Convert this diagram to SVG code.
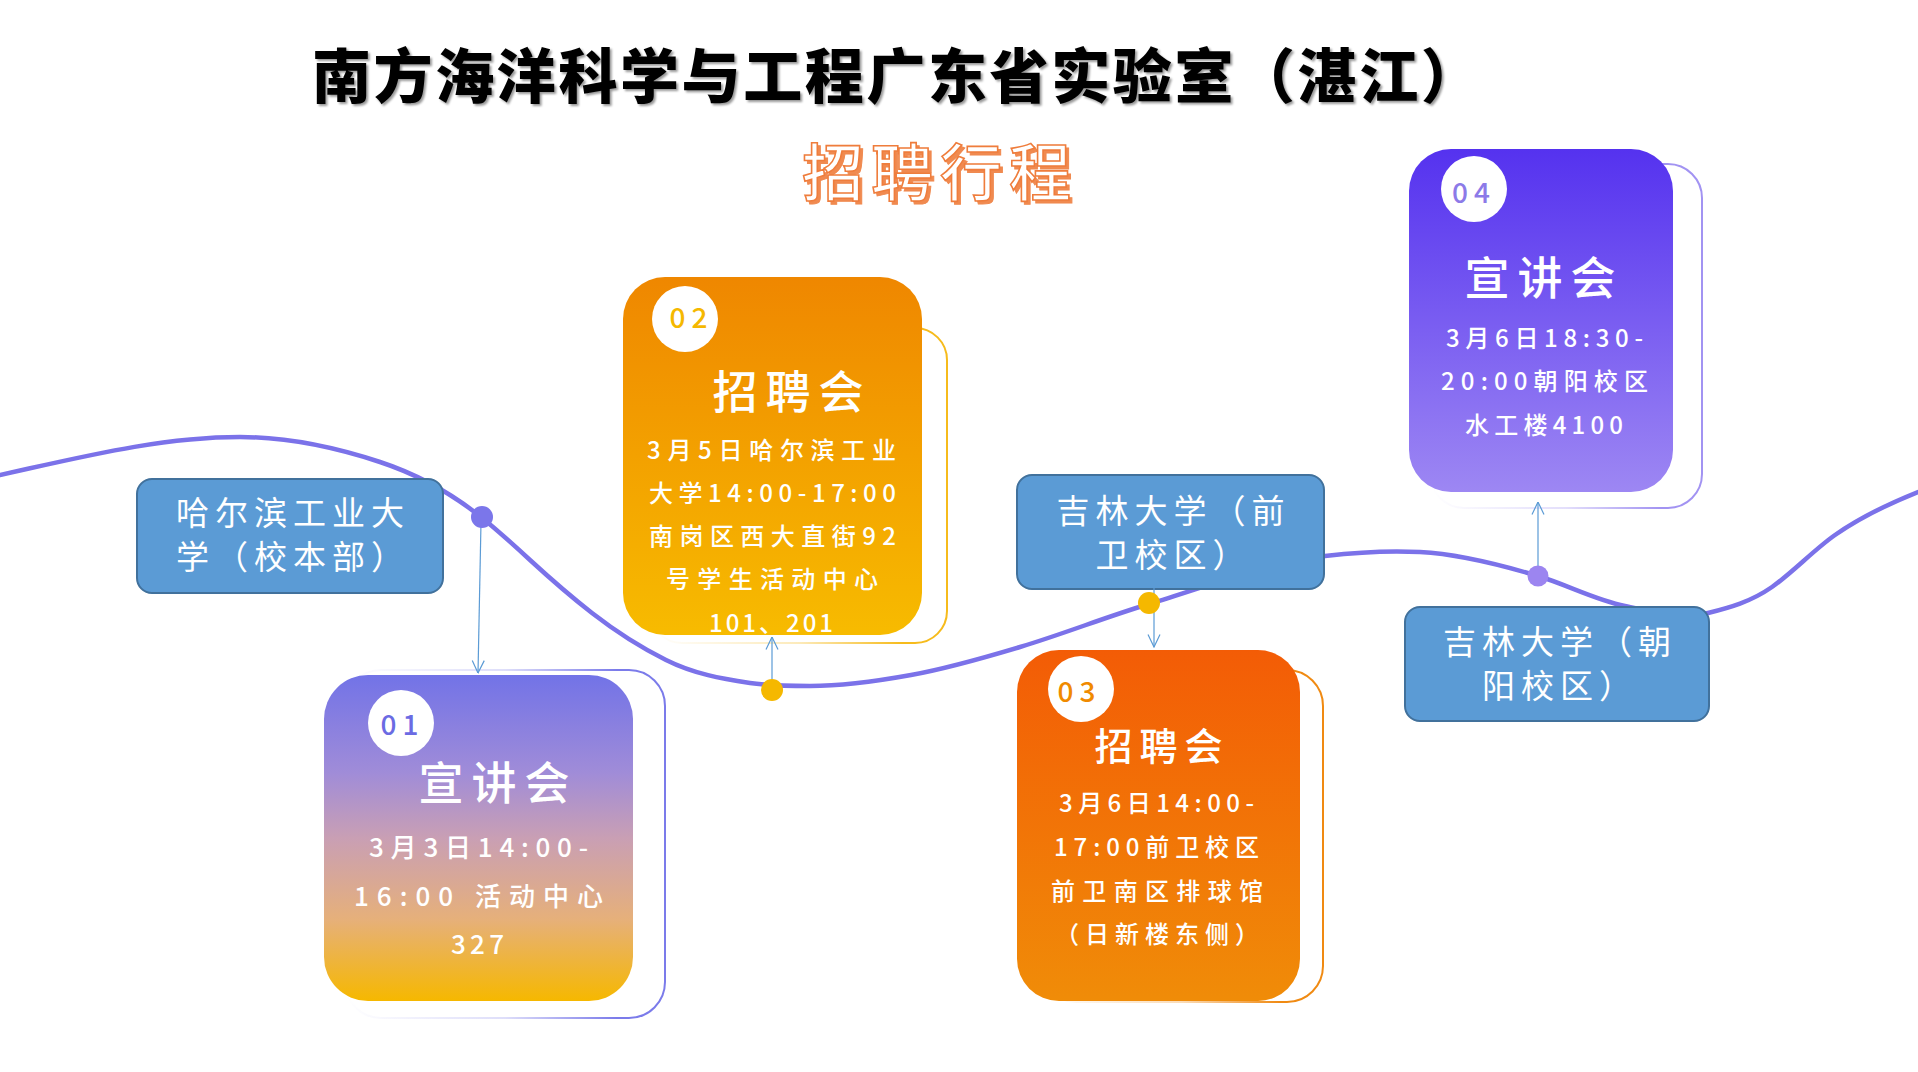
<svg xmlns="http://www.w3.org/2000/svg" width="1918" height="1072" viewBox="0 0 1918 1072">
<defs>
<style>
text { font-family: "Noto Sans CJK SC", "Noto Sans", sans-serif; }
.title { font-size: 59px; font-weight: 900; fill: #000; letter-spacing: 2.6px; }
.sub { font-size: 62px; font-weight: 500; letter-spacing: 7px; }
.bt { fill: #fff; font-size: 33px; letter-spacing: 6px; text-anchor: middle; }
.h { fill: #fff; font-size: 45px; font-weight: 500; letter-spacing: 8px; text-anchor: middle; }
.h3 { font-size: 38px; letter-spacing: 7px; }
.d { fill: #fff; font-size: 24px; font-weight: 500; letter-spacing: 0px; text-anchor: middle; }
.d1 { font-size: 26px; }
.ls { letter-spacing: 6px; }
.num { font-size: 28px; font-weight: 500; letter-spacing: 6px; text-anchor: middle; }
.badge { fill: #fff; }
.boxr { fill: #5b9bd5; stroke: #41719c; stroke-width: 2; }
.outline { fill: none; stroke-width: 2; }
.wave { fill: none; stroke: #7b72e9; stroke-width: 4.5; stroke-linecap: round; }
.conn { fill: none; stroke: #5b9bd5; stroke-width: 1.2; marker-end: url(#arr); }
</style>
<linearGradient id="g1" x1="0" y1="0" x2="0" y2="1">
<stop offset="0" stop-color="#7273e7"/>
<stop offset="0.3" stop-color="#a08cd8"/>
<stop offset="0.5" stop-color="#c99fb4"/>
<stop offset="0.75" stop-color="#e6b07a"/>
<stop offset="1" stop-color="#f6b800"/>
</linearGradient>
<linearGradient id="g2" x1="0" y1="0" x2="0" y2="1">
<stop offset="0" stop-color="#ef8700"/>
<stop offset="1" stop-color="#f7bb00"/>
</linearGradient>
<linearGradient id="g3" x1="0" y1="0" x2="0" y2="1">
<stop offset="0" stop-color="#f35c06"/>
<stop offset="1" stop-color="#f08c08"/>
</linearGradient>
<linearGradient id="g4" x1="0" y1="0" x2="0" y2="1">
<stop offset="0" stop-color="#5532ef"/>
<stop offset="1" stop-color="#9d87f3"/>
</linearGradient>
<linearGradient id="o1" x1="0" y1="0" x2="1" y2="0">
<stop offset="0" stop-color="#7b7bea" stop-opacity="0"/>
<stop offset="0.5" stop-color="#7b7bea" stop-opacity="0.25"/>
<stop offset="0.85" stop-color="#7b7bea" stop-opacity="1"/>
</linearGradient>
<linearGradient id="o2" x1="0" y1="0" x2="1" y2="0">
<stop offset="0" stop-color="#f6bb1c" stop-opacity="0"/>
<stop offset="0.5" stop-color="#f6bb1c" stop-opacity="0.3"/>
<stop offset="0.85" stop-color="#f6bb1c" stop-opacity="1"/>
</linearGradient>
<linearGradient id="o3" x1="0" y1="0" x2="1" y2="0">
<stop offset="0" stop-color="#f08a12" stop-opacity="0"/>
<stop offset="0.5" stop-color="#f08a12" stop-opacity="0.3"/>
<stop offset="0.85" stop-color="#f08a12" stop-opacity="1"/>
</linearGradient>
<linearGradient id="o4" x1="0" y1="0" x2="1" y2="0">
<stop offset="0" stop-color="#a293f2" stop-opacity="0"/>
<stop offset="0.5" stop-color="#a293f2" stop-opacity="0.3"/>
<stop offset="0.85" stop-color="#a293f2" stop-opacity="1"/>
</linearGradient>
<marker id="arr" markerUnits="userSpaceOnUse" viewBox="0 0 14 14" refX="13.5" refY="7" markerWidth="14" markerHeight="14" orient="auto">
<path d="M1,1 L13.5,7 L1,13" fill="none" stroke="#5b9bd5" stroke-width="1.2"/>
</marker>
<filter id="sh" x="-5%" y="-30%" width="110%" height="160%">
<feDropShadow dx="2" dy="2" stdDeviation="1.2" flood-color="#000" flood-opacity="0.4"/>
</filter>
</defs>

<rect width="1918" height="1072" fill="#fff"/>

<g id="title">
<text class="title" x="312" y="98" filter="url(#sh)">南方海洋科学与工程广东省实验室（湛江）</text>
</g>
<g id="subtitle">
<text class="sub" x="805" y="199" fill="#f08a50" stroke="#f08a50" stroke-width="1">招聘行程</text>
<text class="sub" x="802" y="196" fill="#fff" stroke="#ef7d3c" stroke-width="1.6">招聘行程</text>
</g>

<g id="timeline">
<path class="wave" d="M0,475 C80,457.4 160,437 240,437 C286.7,437 333.3,446.6 380,462 C413.7,473.1 447.3,490.1 481,517 C497.3,530.1 513.7,545 530,560 C550.7,579 571.3,596.9 592,613 C616.7,632.2 641.3,647.7 666,660 C694,674 722,678.8 750,683 C770,686 790,686 810,686 C843.7,686 877.3,681.1 911,675 C947.3,668.5 983.7,657.9 1020,647 C1063,634.1 1106,616.9 1149,604 C1207.7,586.4 1266.3,563 1325,556 C1356.7,552.2 1388.3,550.4 1420,552 C1459.3,554 1498.7,564.2 1538,576 C1567,584.7 1596,600.2 1625,606 C1652.7,611.5 1680.3,619.9 1708,613 C1729.3,607.7 1750.7,601.9 1772,587 C1793,572.3 1814,549.7 1835,535 C1862.7,515.6 1890.3,503.1 1918,492"/>
</g>

<g id="box-hit">
<rect class="boxr" x="137" y="479" width="306" height="114" rx="15"/>
<text class="bt" x="293" y="525">哈尔滨工业大</text>
<text class="bt" x="293" y="569">学（校本部）</text>
</g>
<g id="box-jlu-qianwei">
<rect class="boxr" x="1017" y="475" width="307" height="114" rx="15"/>
<text class="bt" x="1173.5" y="523">吉林大学（前</text>
<text class="bt" x="1173.5" y="567">卫校区）</text>
</g>
<g id="box-jlu-chaoyang">
<rect class="boxr" x="1405" y="607" width="304" height="114" rx="15"/>
<text class="bt" x="1560" y="654">吉林大学（朝</text>
<text class="bt" x="1560" y="698">阳校区）</text>
</g>

<g id="card-01">
<rect class="outline" x="345" y="670" width="320" height="348" rx="36" stroke="url(#o1)"/>
<rect x="324" y="675" width="309" height="326" rx="44" fill="url(#g1)"/>
<circle class="badge" cx="401" cy="723" r="33"/>
<text class="num" x="402.5" y="735" fill="#6b6be3">01</text>
<text class="h" x="498" y="800">宣讲会</text>
<text class="d d1" x="478.5" y="857" textLength="219" lengthAdjust="spacing">3月3日14:00-</text>
<text class="d d1" x="478.5" y="906" textLength="249" lengthAdjust="spacing">16:00 活动中心</text>
<text class="d d1" x="477.5" y="954" textLength="53" lengthAdjust="spacing">327</text>
</g>

<g id="card-02">
<rect class="outline" x="650" y="328" width="297" height="315" rx="32" stroke="url(#o2)"/>
<rect x="623" y="277" width="299" height="358" rx="42" fill="url(#g2)"/>
<circle class="badge" cx="685" cy="319" r="33"/>
<text class="num" x="691.5" y="328" fill="#f5b800">02</text>
<text class="h" x="792" y="409">招聘会</text>
<text class="d" x="771.5" y="459" textLength="249" lengthAdjust="spacing">3月5日哈尔滨工业</text>
<text class="d" x="772.5" y="502" textLength="247" lengthAdjust="spacing">大学14:00-17:00</text>
<text class="d" x="772.5" y="545" textLength="247" lengthAdjust="spacing">南岗区西大直街92</text>
<text class="d" x="772" y="588" textLength="212" lengthAdjust="spacing">号学生活动中心</text>
<text class="d" x="771" y="632" textLength="124" lengthAdjust="spacing">101、201</text>
</g>

<g id="card-03">
<rect class="outline" x="1040" y="670" width="283" height="332" rx="36" stroke="url(#o3)"/>
<rect x="1017" y="650" width="283" height="351" rx="42" fill="url(#g3)"/>
<circle class="badge" cx="1081" cy="689" r="33"/>
<text class="num" x="1079.5" y="702" fill="#f08a00">03</text>
<text class="h h3" x="1162" y="760">招聘会</text>
<text class="d" x="1156.5" y="812" textLength="195" lengthAdjust="spacing">3月6日14:00-</text>
<text class="d" x="1156.5" y="856" textLength="205" lengthAdjust="spacing">17:00前卫校区</text>
<text class="d" x="1157" y="900" textLength="212" lengthAdjust="spacing">前卫南区排球馆</text>
<text class="d ls" x="1160" y="943">（日新楼东侧）</text>
</g>

<g id="card-04">
<rect class="outline" x="1430" y="164" width="272" height="344" rx="34" stroke="url(#o4)"/>
<rect x="1409" y="149" width="264" height="343" rx="42" fill="url(#g4)"/>
<circle class="badge" cx="1474" cy="189" r="33"/>
<text class="num" x="1474" y="203" fill="#8c7ae8">04</text>
<text class="h" x="1544" y="295">宣讲会</text>
<text class="d" x="1544.5" y="347" textLength="197" lengthAdjust="spacing">3月6日18:30-</text>
<text class="d" x="1544.5" y="390" textLength="207" lengthAdjust="spacing">20:00朝阳校区</text>
<text class="d" x="1544" y="434" textLength="158" lengthAdjust="spacing">水工楼4100</text>
</g>

<g id="connectors">
<path class="conn" d="M481,522 L478,673"/>
<path class="conn" d="M772,690 L772,637"/>
<path class="conn" d="M1154,588 L1154,647"/>
<path class="conn" d="M1538,576 L1538,502"/>
</g>

<g id="dots">
<circle cx="482" cy="517" r="11" fill="#7b76ea"/>
<circle cx="772" cy="690" r="11" fill="#f5b800"/>
<circle cx="1149" cy="603" r="11" fill="#f5b800"/>
<circle cx="1538" cy="576" r="10.5" fill="#9c85f0"/>
</g>
</svg>
